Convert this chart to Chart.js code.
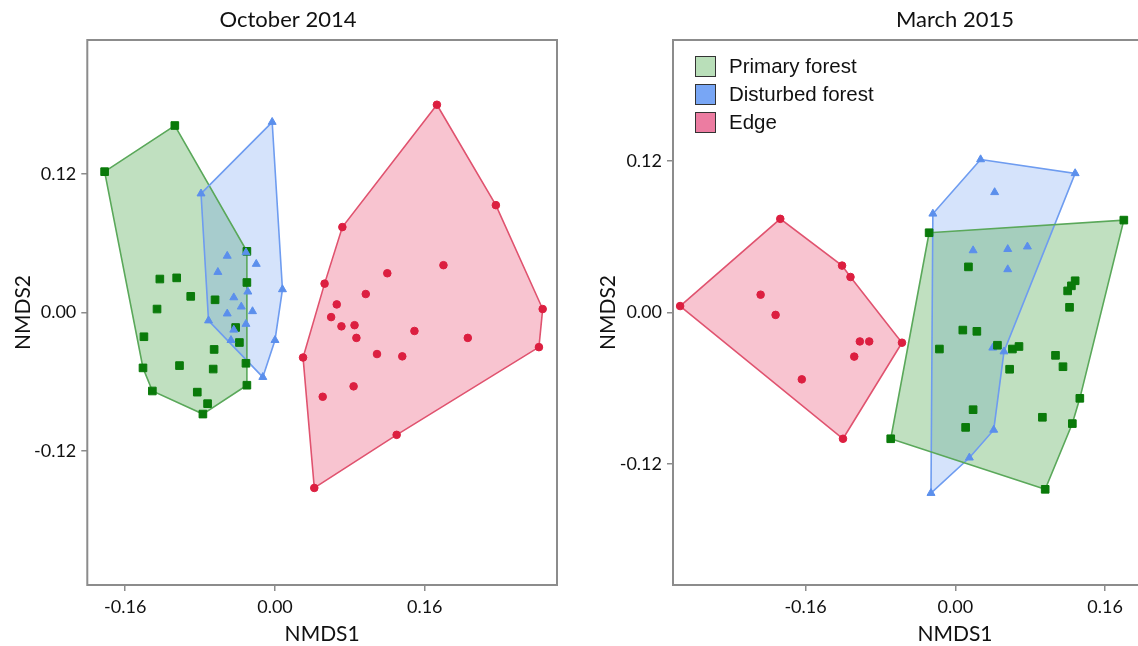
<!DOCTYPE html>
<html>
<head>
<meta charset="utf-8">
<script src="https://cdn.jsdelivr.net/npm/chart.js@4.4.1/dist/chart.umd.min.js"></script>
<style>
  html, body { margin: 0; padding: 0; background: #fff; overflow: hidden; width: 1138px; height: 646px; }
  #octWrap { position: absolute; left: 0; top: 0; }
  #marWrap { position: absolute; left: 585px; top: 0; }
  #legend { position: absolute; left: 695px; top: 52px; font-family: 'Liberation Sans', Arial, sans-serif; font-size: 20.5px; color: #111; }
  #legend .row { height: 28px; display: flex; align-items: center; }
  #legend .box { width: 19px; height: 19px; border: 1.5px solid #333; margin-right: 13px; }
</style>
</head>
<body>
<div id="octWrap"><canvas id="octChart" width="576" height="646"></canvas></div>
<div id="marWrap"><canvas id="marChart" width="742" height="646"></canvas></div>
<div id="legend"></div>
<script>
// tick values shared by both panels
const xTicks = [-0.16, 0, 0.16];
const yTicks = [-0.12, 0, 0.12];

// axis ranges
const octX = [-0.2005, 0.3013];
const octY = [-0.2361, 0.2361];
const marX = [-0.3016, 0.3009];
const marY = [-0.2157, 0.2155];

// October 2014 -- NMDS scores [NMDS1, NMDS2]
const octPrimary = [[-0.182,0.122],[-0.107,0.162],[-0.030,0.053],[-0.030,0.026],[-0.123,0.029],[-0.105,0.030],
  [-0.090,0.014],[-0.064,0.011],[-0.126,0.003],[-0.140,-0.021],[-0.042,-0.013],[-0.038,-0.026],[-0.065,-0.032],
  [-0.031,-0.044],[-0.141,-0.048],[-0.102,-0.046],[-0.066,-0.049],[-0.131,-0.068],[-0.083,-0.069],[-0.072,-0.079],
  [-0.077,-0.088],[-0.030,-0.063]];
const octPrimaryHull = [0, 1, 2, 21, 20, 17, 14];

const octDisturbed = [[-0.003,0.165],[-0.079,0.103],[0.008,0.020],[-0.013,-0.056],[-0.071,-0.007],[-0.031,0.052],
  [-0.051,0.049],[-0.020,0.042],[-0.061,0.035],[-0.029,0.018],[-0.044,0.013],[-0.036,0.005],[-0.051,-0.001],
  [-0.024,0.001],[-0.031,-0.010],[-0.044,-0.015],[-0.047,-0.024],[0.000,-0.024]];
const octDisturbedHull = [0, 2, 17, 3, 4, 1];

const octEdge = [[0.173,0.180],[0.236,0.093],[0.286,0.003],[0.282,-0.030],[0.130,-0.106],[0.042,-0.152],
  [0.030,-0.039],[0.053,0.025],[0.072,0.074],[0.180,0.041],[0.120,0.034],[0.097,0.016],[0.066,0.007],
  [0.060,-0.004],[0.071,-0.012],[0.085,-0.011],[0.087,-0.022],[0.149,-0.016],[0.206,-0.022],[0.109,-0.036],
  [0.136,-0.038],[0.084,-0.064],[0.051,-0.073]];
const octEdgeHull = [0, 1, 2, 3, 4, 5, 6, 7, 8];

// March 2015
const marPrimary = [[-0.028,0.063],[0.180,0.073],[0.096,-0.140],[-0.069,-0.100],[0.014,0.036],[0.128,0.025],
  [0.124,0.021],[0.120,0.017],[0.122,0.004],[0.008,-0.014],[0.023,-0.015],[-0.017,-0.029],[0.045,-0.026],
  [0.061,-0.029],[0.068,-0.027],[0.058,-0.045],[0.107,-0.034],[0.115,-0.043],[0.133,-0.068],[0.093,-0.083],
  [0.125,-0.088],[0.019,-0.077],[0.011,-0.091]];
const marPrimaryHull = [0, 1, 18, 20, 2, 3];

const marDisturbed = [[0.027,0.121],[0.128,0.110],[-0.024,0.078],[0.042,0.095],[0.019,0.049],[0.056,0.050],
  [0.077,0.052],[0.056,0.034],[0.040,-0.028],[0.052,-0.031],[0.041,-0.093],[0.015,-0.115],[-0.026,-0.143]];
const marDisturbedHull = [0, 1, 9, 10, 11, 12, 2];

const marEdge = [[-0.294,0.005],[-0.187,0.074],[-0.121,0.037],[-0.112,0.028],[-0.057,-0.024],[-0.120,-0.100],
  [-0.208,0.014],[-0.192,-0.002],[-0.102,-0.023],[-0.092,-0.023],[-0.108,-0.035],[-0.164,-0.053]];
const marEdgeHull = [0, 1, 2, 3, 4, 5];

const legendLabels = ['Primary forest', 'Disturbed forest', 'Edge'];
const legendColors = ['#b9dfb9', '#78a6f5', '#ec7ca1'];

const groupStyle = {
  primary:   { fill: 'rgba(80,170,80,0.36)',  line: '#5aa85a', marker: '#0a7a0a', shape: 'rect',     radius: 5.4 },
  disturbed: { fill: 'rgba(100,150,240,0.27)', line: '#6e9cf0', marker: '#5b8fec', shape: 'triangle', radius: 4.6 },
  edge:      { fill: 'rgba(232,70,110,0.32)',  line: '#e0536f', marker: '#dc1f40', shape: 'circle',   radius: 3.8 }
};

function toXY(points) {
  return points.map(p => ({ x: p[0], y: p[1] }));
}
function hullPath(points, idx) {
  return idx.concat(idx[0]).map(i => ({ x: points[i][0], y: points[i][1] }));
}

function groupDatasets(points, hull, st, hullOrder) {
  return [{
    data: hullPath(points, hull),
    showLine: true,
    fill: 'shape',
    backgroundColor: st.fill,
    borderColor: st.line,
    borderWidth: 1.6,
    pointRadius: 0,
    pointHoverRadius: 0,
    tension: 0,
    order: hullOrder
  }, {
    data: toXY(points),
    pointStyle: st.shape,
    pointRadius: st.radius,
    backgroundColor: st.marker,
    borderColor: st.marker,
    borderWidth: 1,
    showLine: false,
    order: 0
  }];
}

const framePlugin = {
  id: 'frame',
  afterDraw(chart) {
    const { ctx, chartArea: a } = chart;
    ctx.save();
    ctx.strokeStyle = '#8c8c8c';
    ctx.lineWidth = 2;
    ctx.strokeRect(a.left, a.top, a.right - a.left, a.bottom - a.top);
    ctx.restore();
  }
};

Chart.defaults.font.family = 'Lato, "Open Sans", sans-serif';
Chart.defaults.color = '#111';

function makeChart(id, titleText, datasets, xr, yr, box) {
  const grid = { drawOnChartArea: false, drawTicks: true, tickLength: 6, tickColor: '#8c8c8c', lineWidth: 1.5 };
  return new Chart(document.getElementById(id), {
    type: 'scatter',
    data: { datasets: datasets },
    options: {
      responsive: false,
      animation: false,
      layout: { padding: { left: box.padL, top: 0, bottom: 0, right: box.padR } },
      plugins: {
        legend: { display: false },
        tooltip: { enabled: false },
        filler: { drawTime: 'beforeDatasetsDraw' },
        title: {
          display: true,
          text: titleText,
          fullSize: box.fullTitle,
          font: { size: 22, weight: 'normal' },
          color: '#111',
          padding: { top: 7, bottom: 6.6 }
        }
      },
      scales: {
        x: {
          type: 'linear',
          min: xr[0],
          max: xr[1],
          afterBuildTicks: s => { s.ticks = xTicks.map(v => ({ value: v })); },
          afterFit: s => { s.height = 61; },
          ticks: { font: { size: 18 }, color: '#111', padding: 5, callback: v => v.toFixed(2) },
          title: { display: true, text: 'NMDS1', font: { size: 21 }, color: '#111', padding: { top: 0, bottom: -0.5 } },
          grid: grid,
          border: { display: false }
        },
        y: {
          type: 'linear',
          min: yr[0],
          max: yr[1],
          afterBuildTicks: s => { s.ticks = yTicks.map(v => ({ value: v })); },
          afterFit: s => { s.width = box.axisW; },
          ticks: { font: { size: 18 }, color: '#111', padding: 5, callback: v => v.toFixed(2) },
          title: { display: true, text: 'NMDS2', font: { size: 21 }, color: '#111', padding: { top: box.yTitlePad, bottom: 0 } },
          grid: grid,
          border: { display: false }
        }
      }
    },
    plugins: [framePlugin]
  });
}

const S = groupStyle;
makeChart('octChart', 'October 2014', [].concat(
  groupDatasets(octDisturbed, octDisturbedHull, S.disturbed, 2),
  groupDatasets(octPrimary, octPrimaryHull, S.primary, 3),
  groupDatasets(octEdge, octEdgeHull, S.edge, 1)
), octX, octY, { padL: 19, axisW: 68.3, padR: 19, yTitlePad: -8.6, fullTitle: true });

makeChart('marChart', 'March 2015', [].concat(
  groupDatasets(marPrimary, marPrimaryHull, S.primary, 2),
  groupDatasets(marDisturbed, marDisturbedHull, S.disturbed, 3),
  groupDatasets(marEdge, marEdgeHull, S.edge, 1)
), marX, marY, { padL: 0, axisW: 88, padR: 90, yTitlePad: 10.4, fullTitle: false });

// legend (right panel)
const legendEl = document.getElementById('legend');
legendLabels.forEach((lab, i) => {
  const row = document.createElement('div');
  row.className = 'row';
  const sw = document.createElement('div');
  sw.className = 'box';
  sw.style.background = legendColors[i];
  const txt = document.createElement('span');
  txt.textContent = lab;
  row.appendChild(sw);
  row.appendChild(txt);
  legendEl.appendChild(row);
});
</script>
</body>
</html>
